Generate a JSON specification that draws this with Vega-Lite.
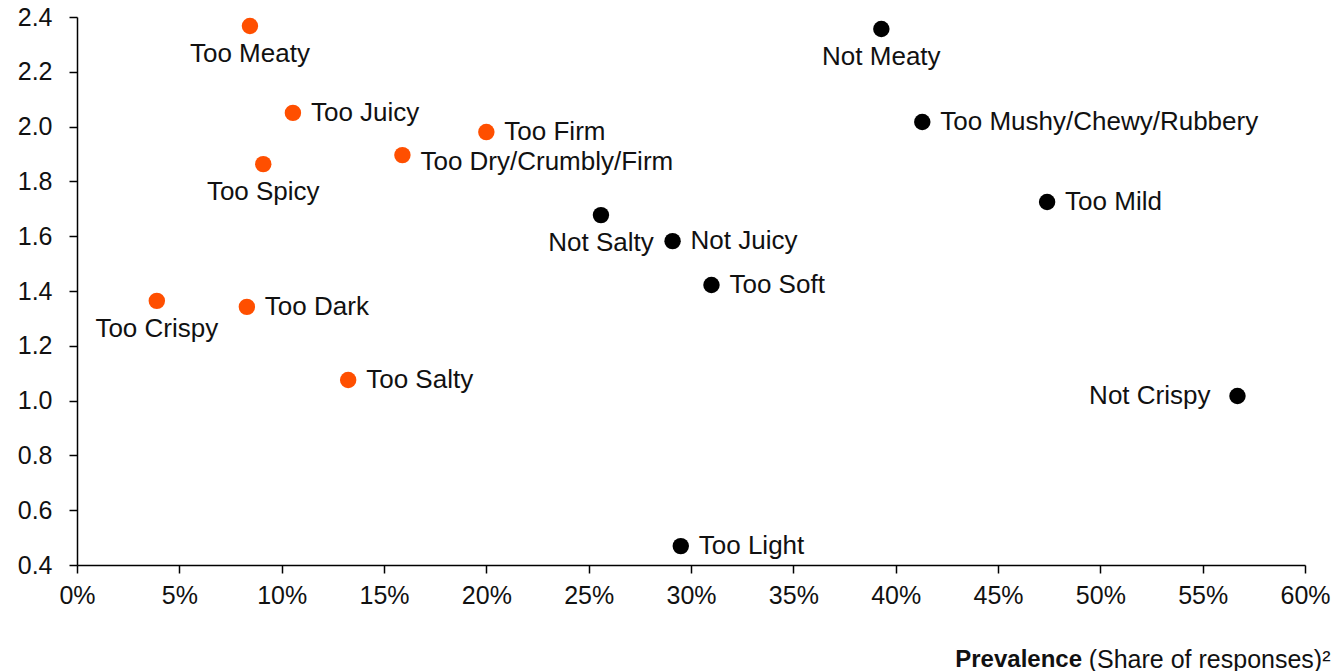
{
  "$schema": "https://vega.github.io/schema/vega-lite/v6.json",
  "autosize": {"type": "none"},
  "width": 1228,
  "height": 548,
  "padding": {"left": 77, "top": 17, "right": 29, "bottom": 106},
  "background": "white",
  "title": {"text": "Prevalence", "orient": "bottom", "anchor": "end", "fontWeight": "bold", "fontSize": 24, "font": "Liberation Sans", "color": "#111", "dx": -248, "offset": -5, "baseline": "alphabetic"},
  "config": {
    "view": {"stroke": null},
    "font": "Liberation Sans",
    "axis": {"grid": false, "domainColor": "#000", "tickColor": "#000", "domainWidth": 1.5, "tickWidth": 1.5, "labelColor": "#111", "labelFont": "Liberation Sans", "labelFontSize": 25, "titleFont": "Liberation Sans"}
  },
  "data": {
    "values": [
      {"name": "Too Meaty", "prevalence": 0.0845, "impact": 2.367, "group": "too"},
      {"name": "Too Juicy", "prevalence": 0.1055, "impact": 2.05, "group": "too"},
      {"name": "Too Firm", "prevalence": 0.200, "impact": 1.98, "group": "too"},
      {"name": "Too Dry/Crumbly/Firm", "prevalence": 0.159, "impact": 1.896, "group": "too"},
      {"name": "Too Spicy", "prevalence": 0.091, "impact": 1.863, "group": "too"},
      {"name": "Too Crispy", "prevalence": 0.039, "impact": 1.364, "group": "too"},
      {"name": "Too Dark", "prevalence": 0.083, "impact": 1.342, "group": "too"},
      {"name": "Too Salty", "prevalence": 0.1325, "impact": 1.075, "group": "too"},
      {"name": "Not Meaty", "prevalence": 0.393, "impact": 2.356, "group": "not"},
      {"name": "Too Mushy/Chewy/Rubbery", "prevalence": 0.413, "impact": 2.017, "group": "not"},
      {"name": "Too Mild", "prevalence": 0.474, "impact": 1.725, "group": "not"},
      {"name": "Not Salty", "prevalence": 0.256, "impact": 1.677, "group": "not"},
      {"name": "Not Juicy", "prevalence": 0.291, "impact": 1.582, "group": "not"},
      {"name": "Too Soft", "prevalence": 0.310, "impact": 1.422, "group": "not"},
      {"name": "Not Crispy", "prevalence": 0.567, "impact": 1.017, "group": "not"},
      {"name": "Too Light", "prevalence": 0.295, "impact": 0.469, "group": "not"}
    ]
  },
  "encoding": {
    "x": {
      "field": "prevalence", "type": "quantitative",
      "scale": {"domain": [0, 0.6], "nice": false, "zero": false},
      "axis": {"format": ".0%", "values": [0, 0.05, 0.1, 0.15, 0.2, 0.25, 0.3, 0.35, 0.4, 0.45, 0.5, 0.55, 0.6], "labelFlush": false, "labelOverlap": false, "labelBound": false, "tickSize": 8, "labelPadding": 10, "title": "(Share of responses)²", "titleFontSize": 25, "titleFontWeight": "normal", "titleColor": "#111", "titleAlign": "right", "titleAnchor": null, "titleX": 1253, "titleY": 102, "titleBaseline": "alphabetic"}
    },
    "y": {
      "field": "impact", "type": "quantitative",
      "scale": {"domain": [0.4, 2.4], "nice": false, "zero": false},
      "axis": {"format": ".1f", "values": [0.4, 0.6, 0.8, 1.0, 1.2, 1.4, 1.6, 1.8, 2.0, 2.2, 2.4], "labelFlush": false, "labelOverlap": false, "tickSize": 8, "labelPadding": 17, "title": null}
    }
  },
  "layer": [
    {
      "mark": {"type": "circle", "size": 270, "opacity": 1},
      "encoding": {
        "color": {"field": "group", "type": "nominal", "scale": {"domain": ["too", "not"], "range": ["#FF4F00", "#000000"]}, "legend": null}
      }
    },
    {
      "transform": [{"filter": {"field": "name", "oneOf": ["Too Juicy", "Too Firm", "Too Dark", "Too Salty", "Too Mushy/Chewy/Rubbery", "Too Mild", "Not Juicy", "Too Soft", "Too Light"]}}],
      "mark": {"type": "text", "align": "left", "baseline": "middle", "dx": 18, "fontSize": 26, "color": "#111"},
      "encoding": {"text": {"field": "name"}}
    },
    {
      "transform": [{"filter": {"field": "name", "oneOf": ["Too Dry/Crumbly/Firm"]}}],
      "mark": {"type": "text", "align": "left", "baseline": "middle", "dx": 18, "dy": 7, "fontSize": 26, "color": "#111"},
      "encoding": {"text": {"field": "name"}}
    },
    {
      "transform": [{"filter": {"field": "name", "oneOf": ["Too Meaty", "Too Spicy", "Too Crispy", "Not Meaty", "Not Salty"]}}],
      "mark": {"type": "text", "align": "center", "baseline": "middle", "dy": 28, "fontSize": 26, "color": "#111"},
      "encoding": {"text": {"field": "name"}}
    },
    {
      "transform": [{"filter": {"field": "name", "oneOf": ["Not Crispy"]}}],
      "mark": {"type": "text", "align": "right", "baseline": "middle", "dx": -27, "fontSize": 26, "color": "#111"},
      "encoding": {"text": {"field": "name"}}
    }
  ]
}
